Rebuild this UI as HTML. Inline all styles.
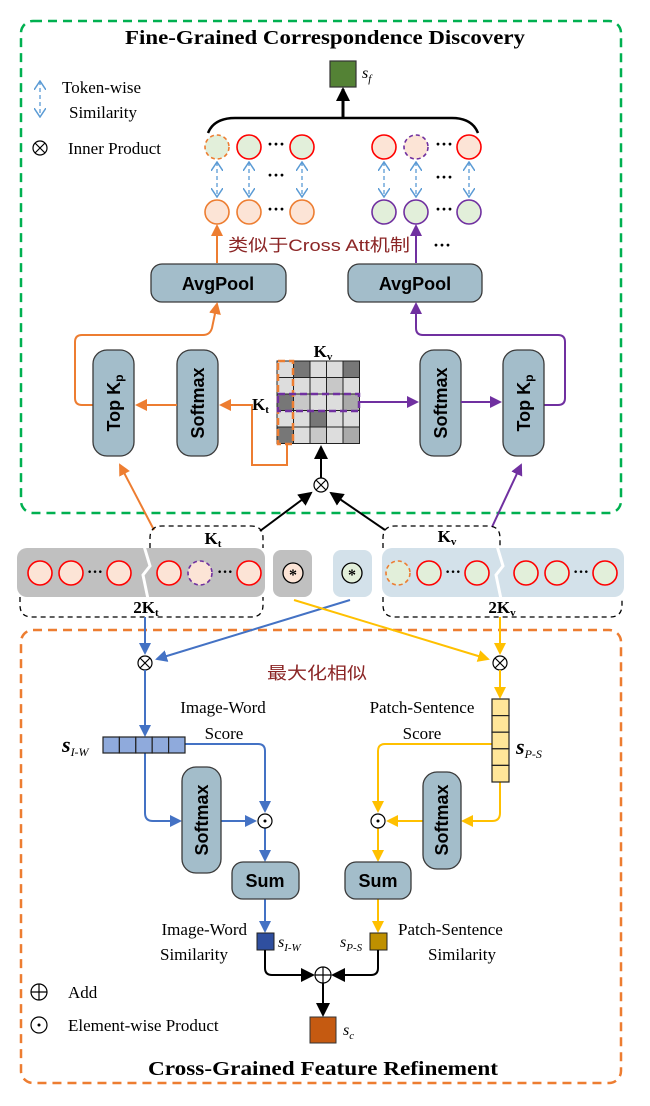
<!DOCTYPE html>
<html><head><meta charset="utf-8">
<style>
html,body{margin:0;padding:0;background:#fff;}
svg{display:block;}
.s{font-family:"Liberation Serif",serif;}
.b{font-family:"Liberation Sans","DejaVu Sans",sans-serif;font-weight:bold;}
.cn{font-family:"Liberation Sans","Noto Sans CJK SC",sans-serif;fill:#8b2525;}
</style></head><body>
<svg width="650" height="1106" viewBox="0 0 650 1106" xmlns="http://www.w3.org/2000/svg">
<defs>
<marker id="mo" markerWidth="12" markerHeight="12" refX="10" refY="6" orient="auto" markerUnits="userSpaceOnUse"><path d="M0,0 L12,6 L0,12 z" fill="#ed7d31"/></marker>
<marker id="mp" markerWidth="12" markerHeight="12" refX="10" refY="6" orient="auto" markerUnits="userSpaceOnUse"><path d="M0,0 L12,6 L0,12 z" fill="#7030a0"/></marker>
<marker id="mb" markerWidth="12" markerHeight="12" refX="10" refY="6" orient="auto" markerUnits="userSpaceOnUse"><path d="M0,0 L12,6 L0,12 z" fill="#4472c4"/></marker>
<marker id="my" markerWidth="12" markerHeight="12" refX="10" refY="6" orient="auto" markerUnits="userSpaceOnUse"><path d="M0,0 L12,6 L0,12 z" fill="#ffc000"/></marker>
<marker id="mk" markerWidth="14" markerHeight="14" refX="12" refY="7" orient="auto" markerUnits="userSpaceOnUse"><path d="M0,0 L14,7 L0,14 z" fill="#000"/></marker>
<marker id="md" markerWidth="10" markerHeight="12" refX="9" refY="6" orient="auto" markerUnits="userSpaceOnUse"><path d="M0,0 L9,6 L0,12" fill="none" stroke="#5b9bd5" stroke-width="1.5"/></marker>
<marker id="mds" markerWidth="10" markerHeight="12" refX="1" refY="6" orient="auto" markerUnits="userSpaceOnUse"><path d="M10,0 L1,6 L10,12" fill="none" stroke="#5b9bd5" stroke-width="1.5"/></marker>
</defs>

<rect x="21" y="21" width="600" height="492" rx="12" fill="none" stroke="#00b050" stroke-width="2.5" stroke-dasharray="9,6"/>
<text class="s" x="325" y="44" font-size="20" font-weight="bold" text-anchor="middle" textLength="400" lengthAdjust="spacingAndGlyphs">Fine-Grained Correspondence Discovery</text>

<line x1="40" y1="81" x2="40" y2="117" stroke="#5b9bd5" stroke-width="1.3" stroke-dasharray="4,3" marker-end="url(#md)" marker-start="url(#mds)"/>
<text class="s" x="62" y="93" font-size="17">Token-wise</text>
<text class="s" x="69" y="118" font-size="17">Similarity</text>
<circle cx="40" cy="148" r="7" fill="none" stroke="#000" stroke-width="1.2"/>
<path d="M35,143 L45,153 M45,143 L35,153" stroke="#000" stroke-width="1.2"/>
<text class="s" x="68" y="154" font-size="17">Inner Product</text>

<rect x="330" y="61" width="26" height="26" fill="#548235" stroke="#333" stroke-width="1.2"/>
<text class="s" x="362" y="78" font-size="16" font-style="italic">s<tspan font-size="11" dy="4">f</tspan></text>
<line x1="343" y1="118" x2="343" y2="89" stroke="#000" stroke-width="3" marker-end="url(#mk)"/>
<path d="M208,133 Q214,118 235,118 L452,118 Q472,118 478,133" fill="none" stroke="#000" stroke-width="2.5"/>

<g stroke-width="1.6">
<circle cx="217" cy="147" r="12" fill="#e2efda" stroke="#ed7d31" stroke-dasharray="4,3"/>
<circle cx="249" cy="147" r="12" fill="#e2efda" stroke="#f00"/>
<circle cx="302" cy="147" r="12" fill="#e2efda" stroke="#f00"/>
<circle cx="384" cy="147" r="12" fill="#fce4d6" stroke="#f00"/>
<circle cx="416" cy="147" r="12" fill="#fce4d6" stroke="#7030a0" stroke-dasharray="4,3"/>
<circle cx="469" cy="147" r="12" fill="#fce4d6" stroke="#f00"/>
<circle cx="217" cy="212" r="12" fill="#fce4d6" stroke="#ed7d31"/>
<circle cx="249" cy="212" r="12" fill="#fce4d6" stroke="#ed7d31"/>
<circle cx="302" cy="212" r="12" fill="#fce4d6" stroke="#ed7d31"/>
<circle cx="384" cy="212" r="12" fill="#e2efda" stroke="#7030a0"/>
<circle cx="416" cy="212" r="12" fill="#e2efda" stroke="#7030a0"/>
<circle cx="469" cy="212" r="12" fill="#e2efda" stroke="#7030a0"/>
</g>
<g class="s" font-size="18" font-weight="bold" text-anchor="middle">
<text x="276" y="150">···</text><text x="444" y="150">···</text>
<text x="276" y="215">···</text><text x="444" y="215">···</text>
<text x="276" y="181">···</text><text x="444" y="183">···</text>
<text x="442" y="251">···</text>
</g>
<g stroke="#5b9bd5" stroke-width="1.3" stroke-dasharray="4,3">
<line x1="217" y1="162" x2="217" y2="197" marker-end="url(#md)" marker-start="url(#mds)"/>
<line x1="249" y1="162" x2="249" y2="197" marker-end="url(#md)" marker-start="url(#mds)"/>
<line x1="302" y1="162" x2="302" y2="197" marker-end="url(#md)" marker-start="url(#mds)"/>
<line x1="384" y1="162" x2="384" y2="197" marker-end="url(#md)" marker-start="url(#mds)"/>
<line x1="416" y1="162" x2="416" y2="197" marker-end="url(#md)" marker-start="url(#mds)"/>
<line x1="469" y1="162" x2="469" y2="197" marker-end="url(#md)" marker-start="url(#mds)"/>
</g>
<line x1="217" y1="263" x2="217" y2="226" stroke="#ed7d31" stroke-width="2" marker-end="url(#mo)"/>
<line x1="416" y1="263" x2="416" y2="226" stroke="#7030a0" stroke-width="2" marker-end="url(#mp)"/>
<text class="cn" x="228" y="251" font-size="17" textLength="182" lengthAdjust="spacingAndGlyphs">类似于Cross Att机制</text>

<rect x="151" y="264" width="135" height="38" rx="11" fill="#a3bdca" stroke="#3a3a3a" stroke-width="1.3"/>
<rect x="348" y="264" width="134" height="38" rx="11" fill="#a3bdca" stroke="#3a3a3a" stroke-width="1.3"/>
<text class="b" x="218" y="290" font-size="18" text-anchor="middle">AvgPool</text>
<text class="b" x="415" y="290" font-size="18" text-anchor="middle">AvgPool</text>

<path d="M93,405 L82,405 Q75,405 75,398 L75,342 Q75,335 82,335 L203,335 Q210,335 212,328 L217,304" fill="none" stroke="#ed7d31" stroke-width="2" marker-end="url(#mo)"/>
<path d="M544,405 L558,405 Q565,405 565,398 L565,342 Q565,335 558,335 L423,335 Q416,335 416,328 L416,304" fill="none" stroke="#7030a0" stroke-width="2" marker-end="url(#mp)"/>

<g fill="#a3bdca" stroke="#3a3a3a" stroke-width="1.3">
<rect x="93" y="350" width="41" height="106" rx="14"/>
<rect x="177" y="350" width="41" height="106" rx="14"/>
<rect x="420" y="350" width="41" height="106" rx="14"/>
<rect x="503" y="350" width="41" height="106" rx="14"/>
</g>
<g class="b" font-size="18" text-anchor="middle">
<text transform="translate(120,403) rotate(-90)">Top K<tspan font-size="12" dy="3">p</tspan></text>
<text transform="translate(204,403) rotate(-90)">Softmax</text>
<text transform="translate(447,403) rotate(-90)">Softmax</text>
<text transform="translate(530,403) rotate(-90)">Top K<tspan font-size="12" dy="3">p</tspan></text>
</g>
<line x1="177" y1="405" x2="137" y2="405" stroke="#ed7d31" stroke-width="2" marker-end="url(#mo)"/>
<path d="M287,444 L287,465 L252,465 L252,405 L221,405" fill="none" stroke="#ed7d31" stroke-width="2" marker-end="url(#mo)"/>
<line x1="359" y1="402" x2="417" y2="402" stroke="#7030a0" stroke-width="2" marker-end="url(#mp)"/>
<line x1="461" y1="402" x2="500" y2="402" stroke="#7030a0" stroke-width="2" marker-end="url(#mp)"/>

<g stroke="#222" stroke-width="1">
<rect x="277" y="361" width="16.5" height="16.5" fill="#ddd"/><rect x="293.5" y="361" width="16.5" height="16.5" fill="#777"/><rect x="310" y="361" width="16.5" height="16.5" fill="#ddd"/><rect x="326.5" y="361" width="16.5" height="16.5" fill="#ddd"/><rect x="343" y="361" width="16.5" height="16.5" fill="#777"/>
<rect x="277" y="377.5" width="16.5" height="16.5" fill="#ddd"/><rect x="293.5" y="377.5" width="16.5" height="16.5" fill="#ddd"/><rect x="310" y="377.5" width="16.5" height="16.5" fill="#ddd"/><rect x="326.5" y="377.5" width="16.5" height="16.5" fill="#c8c8c8"/><rect x="343" y="377.5" width="16.5" height="16.5" fill="#ddd"/>
<rect x="277" y="394" width="16.5" height="16.5" fill="#777"/><rect x="293.5" y="394" width="16.5" height="16.5" fill="#c8c8c8"/><rect x="310" y="394" width="16.5" height="16.5" fill="#ddd"/><rect x="326.5" y="394" width="16.5" height="16.5" fill="#ddd"/><rect x="343" y="394" width="16.5" height="16.5" fill="#aaa"/>
<rect x="277" y="410.5" width="16.5" height="16.5" fill="#ddd"/><rect x="293.5" y="410.5" width="16.5" height="16.5" fill="#ddd"/><rect x="310" y="410.5" width="16.5" height="16.5" fill="#777"/><rect x="326.5" y="410.5" width="16.5" height="16.5" fill="#ddd"/><rect x="343" y="410.5" width="16.5" height="16.5" fill="#ddd"/>
<rect x="277" y="427" width="16.5" height="16.5" fill="#777"/><rect x="293.5" y="427" width="16.5" height="16.5" fill="#ddd"/><rect x="310" y="427" width="16.5" height="16.5" fill="#c8c8c8"/><rect x="326.5" y="427" width="16.5" height="16.5" fill="#ddd"/><rect x="343" y="427" width="16.5" height="16.5" fill="#aaa"/>
</g>
<rect x="278" y="361" width="15" height="83" fill="none" stroke="#ed7d31" stroke-width="2.5" stroke-dasharray="7,4"/>
<rect x="278" y="394" width="81" height="17" fill="none" stroke="#7030a0" stroke-width="2.5" stroke-dasharray="7,4"/>
<text class="s" x="323" y="357" font-size="17" font-weight="bold" text-anchor="middle">K<tspan font-size="11" dy="3">v</tspan></text>
<text class="s" x="252" y="410" font-size="17" font-weight="bold">K<tspan font-size="11" dy="3">t</tspan></text>

<line x1="321" y1="478" x2="321" y2="447" stroke="#000" stroke-width="2" marker-end="url(#mk)"/>
<circle cx="321" cy="485" r="7" fill="#fff" stroke="#000" stroke-width="1.2"/>
<path d="M316,480 L326,490 M326,480 L316,490" stroke="#000" stroke-width="1.2"/>
<line x1="260" y1="531" x2="311" y2="493" stroke="#000" stroke-width="2" marker-end="url(#mk)"/>
<line x1="385" y1="530" x2="331" y2="493" stroke="#000" stroke-width="2" marker-end="url(#mk)"/>
<line x1="154" y1="530" x2="120" y2="465" stroke="#ed7d31" stroke-width="2" marker-end="url(#mo)"/>
<line x1="492" y1="527" x2="521" y2="465" stroke="#7030a0" stroke-width="2" marker-end="url(#mp)"/>

<rect x="17" y="548" width="248" height="49" rx="10" fill="#c0c0c0"/>
<rect x="273" y="550" width="39" height="47" rx="8" fill="#c0c0c0"/>
<rect x="333" y="550" width="39" height="47" rx="8" fill="#d3e1ea"/>
<rect x="382" y="548" width="242" height="49" rx="10" fill="#d3e1ea"/>
<polyline points="144,546 150,566 143,575 148,599" fill="none" stroke="#fff" stroke-width="3"/>
<polyline points="497,546 503,566 496,575 501,599" fill="none" stroke="#fff" stroke-width="3"/>
<g stroke-width="1.6">
<circle cx="40" cy="573" r="12" fill="#fce4d6" stroke="#f00"/>
<circle cx="71" cy="573" r="12" fill="#fce4d6" stroke="#f00"/>
<circle cx="119" cy="573" r="12" fill="#fce4d6" stroke="#f00"/>
<circle cx="169" cy="573" r="12" fill="#fce4d6" stroke="#f00"/>
<circle cx="200" cy="573" r="12" fill="#fce4d6" stroke="#7030a0" stroke-dasharray="4,3"/>
<circle cx="249" cy="573" r="12" fill="#fce4d6" stroke="#f00"/>
<circle cx="398" cy="573" r="12" fill="#e2efda" stroke="#ed7d31" stroke-dasharray="4,3"/>
<circle cx="429" cy="573" r="12" fill="#e2efda" stroke="#f00"/>
<circle cx="477" cy="573" r="12" fill="#e2efda" stroke="#f00"/>
<circle cx="526" cy="573" r="12" fill="#e2efda" stroke="#f00"/>
<circle cx="557" cy="573" r="12" fill="#e2efda" stroke="#f00"/>
<circle cx="605" cy="573" r="12" fill="#e2efda" stroke="#f00"/>
<circle cx="293" cy="573" r="10" fill="#fce4d6" stroke="#000" stroke-width="1.3"/>
<circle cx="352" cy="573" r="10" fill="#e2efda" stroke="#000" stroke-width="1.3"/>
</g>
<g class="s" font-size="16" font-weight="bold" text-anchor="middle">
<text x="95" y="577">···</text><text x="225" y="577">···</text><text x="453" y="577">···</text><text x="581" y="577">···</text>
<text x="293" y="580">*</text><text x="352" y="580">*</text>
</g>
<g fill="none" stroke="#000" stroke-width="1.3" stroke-dasharray="5,4">
<path d="M150,548 L150,538 Q150,526 162,526 L251,526 Q263,526 263,538 L263,548"/>
<path d="M383,548 L383,538 Q383,526 395,526 L488,526 Q500,526 500,538 L500,548"/>
<path d="M20,597 L20,605 Q20,617 32,617 L251,617 Q263,617 263,605 L263,597"/>
<path d="M383,597 L383,605 Q383,617 395,617 L610,617 Q622,617 622,605 L622,597"/>
</g>
<g class="s" font-size="17" font-weight="bold" text-anchor="middle">
<text x="213" y="544">K<tspan font-size="11" dy="3">t</tspan></text>
<text x="447" y="542">K<tspan font-size="11" dy="3">v</tspan></text>
<text x="146" y="613">2K<tspan font-size="11" dy="3">t</tspan></text>
<text x="502" y="613">2K<tspan font-size="11" dy="3">v</tspan></text>
</g>

<rect x="21" y="630" width="600" height="453" rx="12" fill="none" stroke="#ed7d31" stroke-width="2.5" stroke-dasharray="9,6"/>

<line x1="350" y1="600" x2="157" y2="659" stroke="#4472c4" stroke-width="2" marker-end="url(#mb)"/>
<line x1="294" y1="600" x2="488" y2="659" stroke="#ffc000" stroke-width="2" marker-end="url(#my)"/>
<line x1="145" y1="617" x2="145" y2="653" stroke="#4472c4" stroke-width="2" marker-end="url(#mb)"/>
<line x1="500" y1="617" x2="500" y2="653" stroke="#ffc000" stroke-width="2" marker-end="url(#my)"/>
<g fill="#fff" stroke="#000" stroke-width="1.2">
<circle cx="145" cy="663" r="7"/><circle cx="500" cy="663" r="7"/>
</g>
<path d="M140,658 L150,668 M150,658 L140,668 M495,658 L505,668 M505,658 L495,668" stroke="#000" stroke-width="1.2"/>
<text class="cn" x="267" y="679" font-size="17" textLength="100" lengthAdjust="spacingAndGlyphs">最大化相似</text>

<line x1="145" y1="670" x2="145" y2="735" stroke="#4472c4" stroke-width="2" marker-end="url(#mb)"/>
<line x1="500" y1="670" x2="500" y2="697" stroke="#ffc000" stroke-width="2" marker-end="url(#my)"/>

<text class="s" x="223" y="713" font-size="17" text-anchor="middle">Image-Word</text>
<text class="s" x="224" y="739" font-size="17" text-anchor="middle">Score</text>
<text class="s" x="422" y="713" font-size="17" text-anchor="middle">Patch-Sentence</text>
<text class="s" x="422" y="739" font-size="17" text-anchor="middle">Score</text>

<path d="M185,744 L258,744 Q265,744 265,751 L265,811" fill="none" stroke="#4472c4" stroke-width="2" marker-end="url(#mb)"/>
<path d="M145,753 L145,813 Q145,821 153,821 L180,821" fill="none" stroke="#4472c4" stroke-width="2" marker-end="url(#mb)"/>
<line x1="221" y1="821" x2="255" y2="821" stroke="#4472c4" stroke-width="2" marker-end="url(#mb)"/>
<line x1="265" y1="828" x2="265" y2="860" stroke="#4472c4" stroke-width="2" marker-end="url(#mb)"/>
<line x1="265" y1="899" x2="265" y2="931" stroke="#4472c4" stroke-width="2" marker-end="url(#mb)"/>
<path d="M492,744 L385,744 Q378,744 378,751 L378,811" fill="none" stroke="#ffc000" stroke-width="2" marker-end="url(#my)"/>
<path d="M500,782 L500,813 Q500,821 492,821 L463,821" fill="none" stroke="#ffc000" stroke-width="2" marker-end="url(#my)"/>
<line x1="423" y1="821" x2="388" y2="821" stroke="#ffc000" stroke-width="2" marker-end="url(#my)"/>
<line x1="378" y1="828" x2="378" y2="860" stroke="#ffc000" stroke-width="2" marker-end="url(#my)"/>
<line x1="378" y1="899" x2="378" y2="931" stroke="#ffc000" stroke-width="2" marker-end="url(#my)"/>

<g fill="#8faadc" stroke="#222" stroke-width="1.2">
<rect x="103" y="737" width="16.4" height="16"/><rect x="119.4" y="737" width="16.4" height="16"/><rect x="135.8" y="737" width="16.4" height="16"/><rect x="152.2" y="737" width="16.4" height="16"/><rect x="168.6" y="737" width="16.4" height="16"/>
</g>
<text class="s" x="62" y="752" font-size="22" font-weight="bold" font-style="italic">s<tspan font-size="12" font-weight="normal" dy="4">I-W</tspan></text>
<g fill="#ffe699" stroke="#222" stroke-width="1.2">
<rect x="492" y="699" width="17" height="16.6"/><rect x="492" y="715.6" width="17" height="16.6"/><rect x="492" y="732.2" width="17" height="16.6"/><rect x="492" y="748.8" width="17" height="16.6"/><rect x="492" y="765.4" width="17" height="16.6"/>
</g>
<text class="s" x="516" y="754" font-size="22" font-weight="bold" font-style="italic">s<tspan font-size="12" font-weight="normal" dy="4">P-S</tspan></text>

<g fill="#a3bdca" stroke="#3a3a3a" stroke-width="1.3">
<rect x="182" y="767" width="39" height="106" rx="14"/>
<rect x="423" y="772" width="38" height="97" rx="14"/>
<rect x="232" y="862" width="67" height="37" rx="11"/>
<rect x="345" y="862" width="66" height="37" rx="11"/>
</g>
<g class="b" font-size="18" text-anchor="middle">
<text transform="translate(208,820) rotate(-90)">Softmax</text>
<text transform="translate(448,820) rotate(-90)">Softmax</text>
<text x="265" y="887">Sum</text>
<text x="378" y="887">Sum</text>
</g>
<g fill="#fff" stroke="#000" stroke-width="1.2">
<circle cx="265" cy="821" r="7"/><circle cx="378" cy="821" r="7"/>
</g>
<circle cx="265" cy="821" r="1.5" fill="#000"/><circle cx="378" cy="821" r="1.5" fill="#000"/>

<rect x="257" y="933" width="17" height="17" fill="#2f4f9f" stroke="#222"/>
<rect x="370" y="933" width="17" height="17" fill="#bf9000" stroke="#222"/>
<text class="s" x="278" y="947" font-size="16" font-style="italic">s<tspan font-size="11" dy="4">I-W</tspan></text>
<text class="s" x="340" y="947" font-size="16" font-style="italic">s<tspan font-size="11" dy="4">P-S</tspan></text>
<text class="s" x="247" y="935" font-size="17" text-anchor="end">Image-Word</text>
<text class="s" x="194" y="960" font-size="17" text-anchor="middle">Similarity</text>
<text class="s" x="398" y="935" font-size="17">Patch-Sentence</text>
<text class="s" x="462" y="960" font-size="17" text-anchor="middle">Similarity</text>

<path d="M265,950 L265,968 Q265,975 272,975 L313,975" fill="none" stroke="#000" stroke-width="2" marker-end="url(#mk)"/>
<path d="M378,950 L378,968 Q378,975 371,975 L333,975" fill="none" stroke="#000" stroke-width="2" marker-end="url(#mk)"/>
<circle cx="323" cy="975" r="8" fill="#fff" stroke="#000" stroke-width="1.2"/>
<path d="M315,975 L331,975 M323,967 L323,983" stroke="#000" stroke-width="1.2"/>
<line x1="323" y1="983" x2="323" y2="1015" stroke="#000" stroke-width="2" marker-end="url(#mk)"/>
<rect x="310" y="1017" width="26" height="26" fill="#c55a11" stroke="#333"/>
<text class="s" x="343" y="1035" font-size="16" font-style="italic">s<tspan font-size="11" dy="4">c</tspan></text>

<circle cx="39" cy="992" r="8" fill="none" stroke="#000" stroke-width="1.2"/>
<path d="M31,992 L47,992 M39,984 L39,1000" stroke="#000" stroke-width="1.2"/>
<text class="s" x="68" y="998" font-size="17">Add</text>
<circle cx="39" cy="1025" r="8" fill="none" stroke="#000" stroke-width="1.2"/>
<circle cx="39" cy="1025" r="1.5" fill="#000"/>
<text class="s" x="68" y="1031" font-size="17">Element-wise Product</text>

<text class="s" x="323" y="1075" font-size="20" font-weight="bold" text-anchor="middle" textLength="350" lengthAdjust="spacingAndGlyphs">Cross-Grained Feature Refinement</text>
</svg>
</body></html>
